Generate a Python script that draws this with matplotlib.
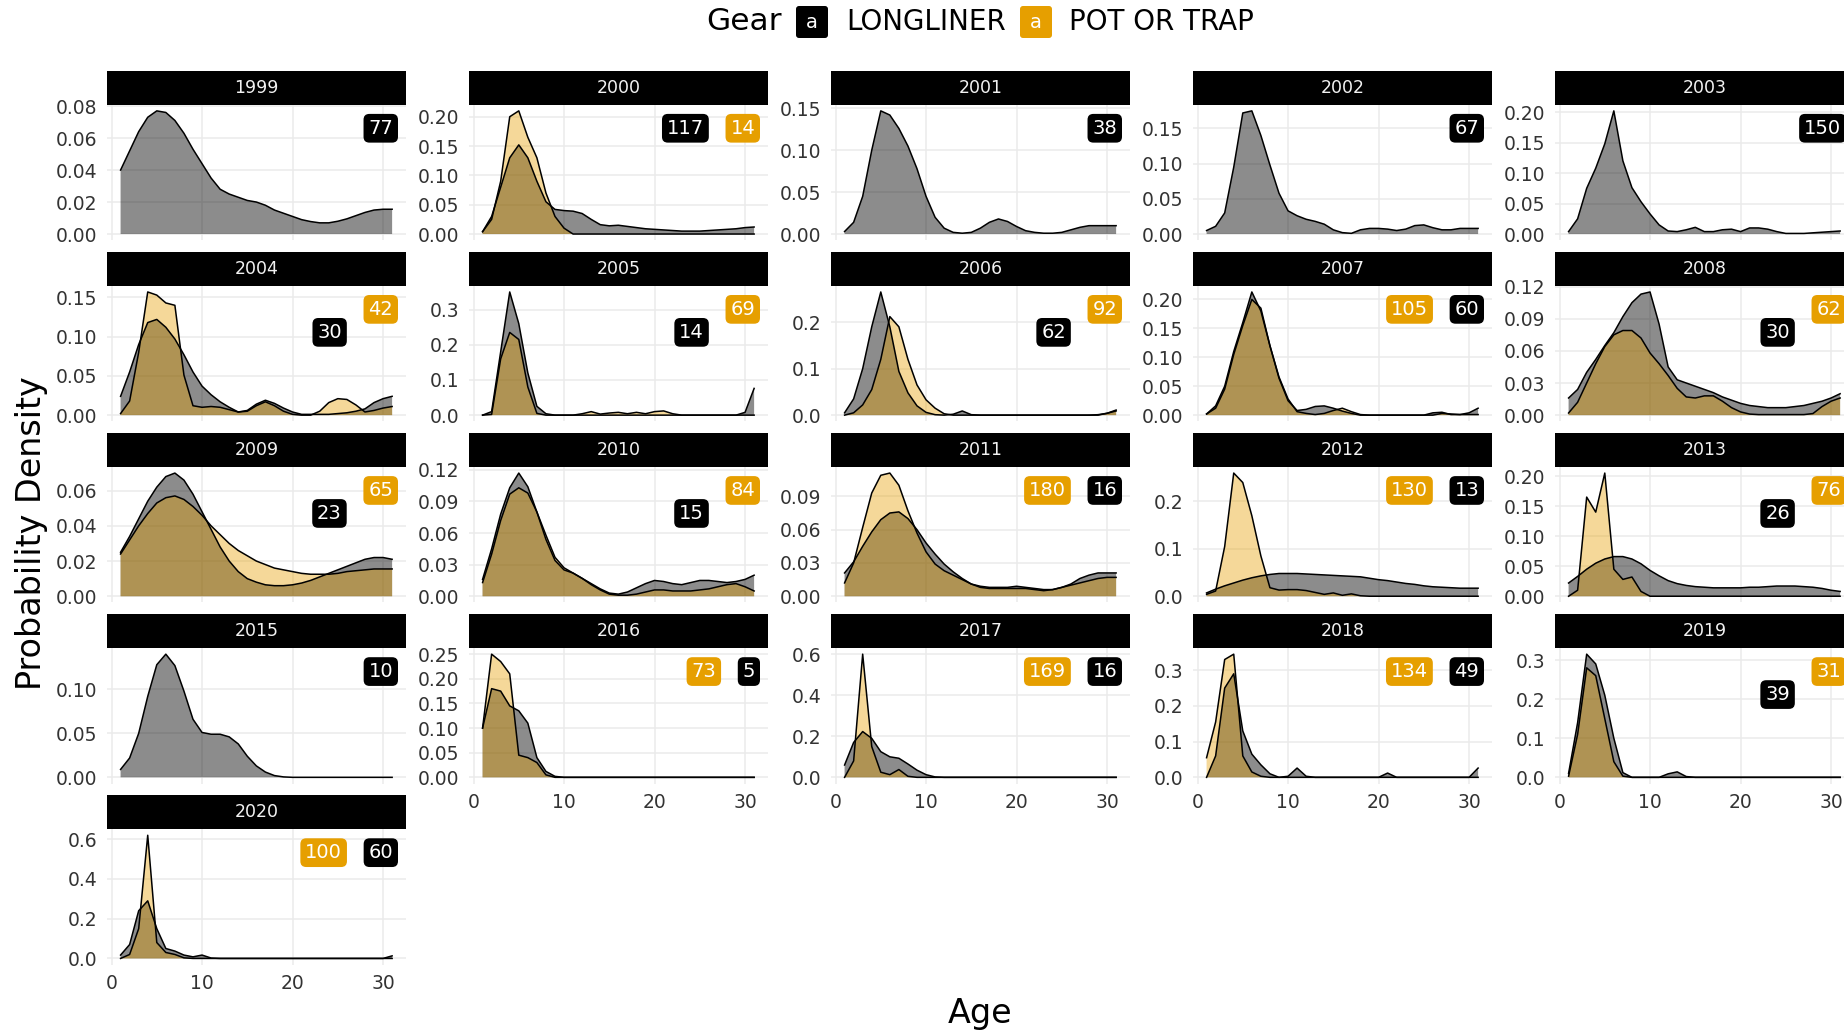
import matplotlib
matplotlib.use("Agg")
import matplotlib.pyplot as plt
from matplotlib.patches import Rectangle, FancyBboxPatch
from matplotlib.transforms import IdentityTransform
import numpy as np

plt.rcParams['font.family'] = ['DejaVu Sans']

# ---------------- data ----------------
AGES = [1, 2, 3, 4, 5, 6, 7, 8, 9, 10, 11, 12, 13, 14, 15, 16, 17, 18, 19, 20,
        21, 22, 23, 24, 25, 26, 27, 28, 29, 30, 31]

YEARS = [1999, 2000, 2001, 2002, 2003, 2004, 2005, 2006, 2007, 2008, 2009,
         2010, 2011, 2012, 2013, 2015, 2016, 2017, 2018, 2019, 2020]
LL_N = [77, 117, 38, 67, 150, 30, 14, 62, 60, 30, 23, 15, 16, 13, 26, 10, 5,
        16, 49, 39, 60]
PT_N = [None, 14, None, None, None, 42, 69, 92, 105, 62, 65, 84, 180, 130, 76,
        None, 73, 169, 134, 31, 100]
LABEL_LAYOUT = ['single', 'll_left', 'single', 'single', 'single', 'stack',
                'stack', 'stack', 'pt_left', 'stack', 'stack', 'stack',
                'pt_left', 'pt_left', 'stack', 'single', 'pt_left', 'pt_left',
                'pt_left', 'stack', 'pt_left']
Y_STEP = [0.02, 0.05, 0.05, 0.05, 0.05, 0.05, 0.1, 0.1, 0.05, 0.03, 0.02,
          0.03, 0.03, 0.1, 0.05, 0.05, 0.05, 0.2, 0.1, 0.1, 0.2]

LL_1999 = [0.040, 0.052, 0.064, 0.073, 0.077, 0.076, 0.071, 0.063, 0.053, 0.044,
           0.035, 0.028, 0.025, 0.023, 0.021, 0.020, 0.018, 0.015, 0.013, 0.011,
           0.009, 0.0078, 0.0070, 0.0070, 0.0080, 0.0095, 0.0115, 0.0135, 0.015, 0.0155, 0.0155]
LL_2000 = [0.004, 0.030, 0.080, 0.130, 0.152, 0.130, 0.090, 0.055, 0.042, 0.040,
           0.039, 0.035, 0.025, 0.016, 0.014, 0.015, 0.013, 0.011, 0.009, 0.008,
           0.007, 0.006, 0.005, 0.005, 0.005, 0.006, 0.007, 0.008, 0.009, 0.011, 0.012]
PT_2000 = [0.004, 0.025, 0.090, 0.200, 0.210, 0.165, 0.130, 0.070, 0.030, 0.010,
           0.0, 0.0, 0.0, 0.0, 0.0, 0.0, 0.0, 0.0, 0.0, 0.0,
           0.0, 0.0, 0.0, 0.0, 0.0, 0.0, 0.0, 0.0, 0.0, 0.0, 0.0]
LL_2001 = [0.003, 0.014, 0.045, 0.100, 0.147, 0.142, 0.126, 0.105, 0.078, 0.045,
           0.020, 0.007, 0.002, 0.001, 0.002, 0.007, 0.014, 0.018, 0.015, 0.009,
           0.004, 0.002, 0.001, 0.001, 0.002, 0.005, 0.008, 0.010, 0.010, 0.010, 0.010]
LL_2002 = [0.005, 0.011, 0.030, 0.095, 0.172, 0.175, 0.140, 0.098, 0.058, 0.033,
           0.026, 0.021, 0.018, 0.014, 0.006, 0.002, 0.001, 0.006, 0.008, 0.008,
           0.007, 0.005, 0.007, 0.012, 0.013, 0.009, 0.006, 0.006, 0.008, 0.008, 0.008]
LL_2003 = [0.004, 0.025, 0.075, 0.108, 0.148, 0.202, 0.120, 0.076, 0.053, 0.033,
           0.015, 0.005, 0.004, 0.007, 0.011, 0.004, 0.004, 0.007, 0.008, 0.004,
           0.010, 0.010, 0.008, 0.004, 0.001, 0.001, 0.001, 0.002, 0.003, 0.004, 0.005]
LL_2004 = [0.024, 0.055, 0.090, 0.118, 0.122, 0.112, 0.097, 0.077, 0.055, 0.037,
           0.026, 0.017, 0.010, 0.004, 0.006, 0.014, 0.019, 0.015, 0.009, 0.004,
           0.001, 0.001, 0.001, 0.001, 0.002, 0.003, 0.005, 0.008, 0.016, 0.021, 0.024]
PT_2004 = [0.002, 0.018, 0.080, 0.157, 0.153, 0.143, 0.140, 0.051, 0.012, 0.010,
           0.011, 0.010, 0.007, 0.004, 0.005, 0.012, 0.017, 0.012, 0.005, 0.001,
           0.0, 0.0, 0.005, 0.016, 0.021, 0.020, 0.013, 0.004, 0.006, 0.009, 0.011]
LL_2005 = [0.0, 0.010, 0.180, 0.350, 0.260, 0.120, 0.025, 0.004, 0.0, 0.0,
           0.0, 0.0, 0.0, 0.0, 0.0, 0.0, 0.0, 0.0, 0.0, 0.0,
           0.0, 0.0, 0.0, 0.0, 0.0, 0.0, 0.0, 0.0, 0.0, 0.008, 0.076]
PT_2005 = [0.0, 0.002, 0.160, 0.235, 0.215, 0.080, 0.005, 0.0, 0.0, 0.0,
           0.0, 0.004, 0.010, 0.003, 0.006, 0.008, 0.004, 0.008, 0.004, 0.010,
           0.012, 0.004, 0.0, 0.0, 0.0, 0.0, 0.0, 0.0, 0.0, 0.0, 0.0]
LL_2006 = [0.005, 0.035, 0.100, 0.190, 0.265, 0.190, 0.094, 0.048, 0.020, 0.006,
           0.001, 0.0, 0.002, 0.009, 0.001, 0.0, 0.0, 0.0, 0.0, 0.0,
           0.0, 0.0, 0.0, 0.0, 0.0, 0.0, 0.0, 0.0, 0.0, 0.004, 0.009]
PT_2006 = [0.0, 0.005, 0.022, 0.055, 0.120, 0.212, 0.190, 0.120, 0.065, 0.033,
           0.015, 0.003, 0.0, 0.0, 0.0, 0.0, 0.0, 0.0, 0.0, 0.0,
           0.0, 0.0, 0.0, 0.0, 0.0, 0.0, 0.0, 0.0, 0.001, 0.004, 0.011]
LL_2007 = [0.002, 0.016, 0.050, 0.110, 0.160, 0.213, 0.180, 0.120, 0.064, 0.025,
           0.008, 0.010, 0.015, 0.016, 0.012, 0.007, 0.003, 0.0, 0.0, 0.0,
           0.0, 0.0, 0.0, 0.0, 0.0, 0.004, 0.005, 0.001, 0.001, 0.004, 0.012]
PT_2007 = [0.002, 0.012, 0.045, 0.105, 0.155, 0.200, 0.185, 0.120, 0.066, 0.028,
           0.006, 0.003, 0.001, 0.003, 0.008, 0.012, 0.006, 0.001, 0.0, 0.0,
           0.0, 0.0, 0.0, 0.0, 0.0, 0.0, 0.003, 0.002, 0.001, 0.001, 0.001]
LL_2008 = [0.016, 0.024, 0.040, 0.052, 0.065, 0.077, 0.092, 0.105, 0.113, 0.115,
           0.085, 0.045, 0.033, 0.030, 0.027, 0.024, 0.021, 0.017, 0.014, 0.011,
           0.009, 0.008, 0.007, 0.007, 0.007, 0.008, 0.009, 0.011, 0.013, 0.016, 0.020]
PT_2008 = [0.002, 0.012, 0.030, 0.048, 0.064, 0.075, 0.079, 0.079, 0.072, 0.058,
           0.048, 0.037, 0.025, 0.017, 0.016, 0.018, 0.018, 0.013, 0.007, 0.003,
           0.001, 0.0005, 0.0005, 0.0005, 0.0005, 0.0005, 0.0005, 0.0015, 0.008, 0.013, 0.016]
LL_2009 = [0.025, 0.034, 0.044, 0.054, 0.062, 0.068, 0.070, 0.066, 0.058, 0.048,
           0.038, 0.028, 0.020, 0.014, 0.010, 0.008, 0.0065, 0.006, 0.006, 0.0065,
           0.0075, 0.009, 0.011, 0.013, 0.015, 0.017, 0.019, 0.021, 0.022, 0.022, 0.021]
PT_2009 = [0.024, 0.032, 0.040, 0.047, 0.053, 0.056, 0.057, 0.055, 0.051, 0.046,
           0.040, 0.035, 0.030, 0.026, 0.023, 0.020, 0.018, 0.016, 0.015, 0.014,
           0.013, 0.0125, 0.0125, 0.0125, 0.013, 0.014, 0.0145, 0.015, 0.0155, 0.0155, 0.0155]
LL_2010 = [0.016, 0.045, 0.078, 0.103, 0.117, 0.104, 0.080, 0.054, 0.034, 0.025,
           0.022, 0.017, 0.012, 0.007, 0.003, 0.002, 0.004, 0.008, 0.012, 0.015,
           0.014, 0.012, 0.011, 0.013, 0.015, 0.015, 0.014, 0.013, 0.014, 0.016, 0.020]
PT_2010 = [0.013, 0.040, 0.072, 0.097, 0.103, 0.098, 0.080, 0.058, 0.037, 0.027,
           0.022, 0.017, 0.011, 0.006, 0.002, 0.001, 0.001, 0.002, 0.004, 0.006,
           0.006, 0.005, 0.005, 0.005, 0.006, 0.007, 0.009, 0.011, 0.012, 0.009, 0.005]
LL_2011 = [0.021, 0.031, 0.045, 0.058, 0.069, 0.075, 0.076, 0.070, 0.060, 0.048,
           0.038, 0.029, 0.022, 0.016, 0.011, 0.009, 0.008, 0.008, 0.008, 0.009,
           0.008, 0.007, 0.006, 0.006, 0.008, 0.011, 0.016, 0.019, 0.021, 0.021, 0.021]
PT_2011 = [0.012, 0.030, 0.062, 0.093, 0.109, 0.111, 0.100, 0.077, 0.057, 0.040,
           0.029, 0.023, 0.019, 0.015, 0.011, 0.008, 0.007, 0.007, 0.007, 0.007,
           0.007, 0.006, 0.005, 0.006, 0.008, 0.010, 0.012, 0.014, 0.016, 0.017, 0.017]
LL_2012 = [0.007, 0.015, 0.022, 0.028, 0.034, 0.039, 0.043, 0.046, 0.048, 0.048,
           0.048, 0.047, 0.046, 0.045, 0.044, 0.043, 0.042, 0.041, 0.038, 0.035,
           0.033, 0.030, 0.027, 0.025, 0.022, 0.020, 0.019, 0.018, 0.017, 0.017, 0.017]
PT_2012 = [0.004, 0.011, 0.105, 0.260, 0.240, 0.170, 0.085, 0.018, 0.013, 0.014,
           0.014, 0.012, 0.008, 0.004, 0.007, 0.002, 0.005, 0.001, 0.0, 0.0,
           0.0, 0.0, 0.0, 0.0, 0.0, 0.0, 0.0, 0.0, 0.0, 0.0, 0.0]
LL_2013 = [0.022, 0.033, 0.045, 0.055, 0.062, 0.066, 0.066, 0.062, 0.054, 0.043,
           0.034, 0.026, 0.021, 0.018, 0.016, 0.015, 0.014, 0.014, 0.014, 0.014,
           0.015, 0.015, 0.016, 0.017, 0.017, 0.017, 0.016, 0.015, 0.013, 0.010, 0.008]
PT_2013 = [0.0, 0.010, 0.165, 0.140, 0.205, 0.045, 0.028, 0.032, 0.008, 0.0,
           0.0, 0.0, 0.0, 0.0, 0.0, 0.0, 0.0, 0.0, 0.0, 0.0,
           0.0, 0.0, 0.0, 0.0, 0.0, 0.0, 0.0, 0.0, 0.0, 0.0, 0.0]
LL_2015 = [0.009, 0.022, 0.050, 0.092, 0.128, 0.140, 0.127, 0.098, 0.066, 0.051,
           0.049, 0.049, 0.046, 0.038, 0.024, 0.013, 0.006, 0.002, 0.0005, 0.0,
           0.0, 0.0, 0.0, 0.0, 0.0, 0.0, 0.0, 0.0, 0.0, 0.0, 0.0]
LL_2016 = [0.100, 0.180, 0.175, 0.145, 0.135, 0.110, 0.040, 0.012, 0.002, 0.0,
           0.0, 0.0, 0.0, 0.0, 0.0, 0.0, 0.0, 0.0, 0.0, 0.0,
           0.0, 0.0, 0.0, 0.0, 0.0, 0.0, 0.0, 0.0, 0.0, 0.0, 0.0]
PT_2016 = [0.100, 0.250, 0.235, 0.210, 0.045, 0.040, 0.030, 0.005, 0.0, 0.0,
           0.0, 0.0, 0.0, 0.0, 0.0, 0.0, 0.0, 0.0, 0.0, 0.0,
           0.0, 0.0, 0.0, 0.0, 0.0, 0.0, 0.0, 0.0, 0.0, 0.0, 0.0]
LL_2017 = [0.060, 0.170, 0.223, 0.190, 0.125, 0.100, 0.093, 0.065, 0.035, 0.013,
           0.002, 0.0, 0.0, 0.0, 0.0, 0.0, 0.0, 0.0, 0.0, 0.0,
           0.0, 0.0, 0.0, 0.0, 0.0, 0.0, 0.0, 0.0, 0.0, 0.0, 0.0]
PT_2017 = [0.0, 0.080, 0.600, 0.150, 0.025, 0.013, 0.038, 0.005, 0.0, 0.0,
           0.0, 0.0, 0.0, 0.0, 0.0, 0.0, 0.0, 0.0, 0.0, 0.0,
           0.0, 0.0, 0.0, 0.0, 0.0, 0.0, 0.0, 0.0, 0.0, 0.0, 0.0]
LL_2018 = [0.0, 0.060, 0.250, 0.290, 0.130, 0.065, 0.035, 0.010, 0.0, 0.003,
           0.026, 0.003, 0.0, 0.0, 0.0, 0.0, 0.0, 0.0, 0.0, 0.0,
           0.012, 0.0, 0.0, 0.0, 0.0, 0.0, 0.0, 0.0, 0.0, 0.0, 0.026]
PT_2018 = [0.055, 0.155, 0.330, 0.345, 0.060, 0.015, 0.003, 0.0, 0.0, 0.0,
           0.0, 0.0, 0.0, 0.0, 0.0, 0.0, 0.0, 0.0, 0.0, 0.0,
           0.0, 0.0, 0.0, 0.0, 0.0, 0.0, 0.0, 0.0, 0.0, 0.0, 0.0]
LL_2019 = [0.010, 0.140, 0.315, 0.290, 0.210, 0.100, 0.012, 0.0, 0.0, 0.0,
           0.0, 0.009, 0.014, 0.002, 0.0, 0.0, 0.0, 0.0, 0.0, 0.0,
           0.0, 0.0, 0.0, 0.0, 0.0, 0.0, 0.0, 0.0, 0.0, 0.0, 0.0]
PT_2019 = [0.003, 0.110, 0.280, 0.260, 0.150, 0.040, 0.003, 0.0, 0.0, 0.0,
           0.0, 0.0, 0.0, 0.0, 0.0, 0.0, 0.0, 0.0, 0.0, 0.0,
           0.0, 0.0, 0.0, 0.0, 0.0, 0.0, 0.0, 0.0, 0.0, 0.0, 0.0]
LL_2020 = [0.017, 0.070, 0.240, 0.290, 0.150, 0.050, 0.037, 0.017, 0.008, 0.017,
           0.002, 0.0, 0.0, 0.0, 0.0, 0.0, 0.0, 0.0, 0.0, 0.0,
           0.0, 0.0, 0.0, 0.0, 0.0, 0.0, 0.0, 0.0, 0.0, 0.0, 0.013]
PT_2020 = [0.0, 0.020, 0.150, 0.620, 0.080, 0.030, 0.020, 0.003, 0.0, 0.0,
           0.0, 0.0, 0.0, 0.0, 0.0, 0.0, 0.0, 0.0, 0.0, 0.0,
           0.0, 0.0, 0.0, 0.0, 0.0, 0.0, 0.0, 0.0, 0.0, 0.0, 0.0]

LL_CURVES = {1999: LL_1999, 2000: LL_2000, 2001: LL_2001, 2002: LL_2002,
             2003: LL_2003, 2004: LL_2004, 2005: LL_2005, 2006: LL_2006,
             2007: LL_2007, 2008: LL_2008, 2009: LL_2009, 2010: LL_2010,
             2011: LL_2011, 2012: LL_2012, 2013: LL_2013, 2015: LL_2015,
             2016: LL_2016, 2017: LL_2017, 2018: LL_2018, 2019: LL_2019,
             2020: LL_2020}
PT_CURVES = {2000: PT_2000, 2004: PT_2004, 2005: PT_2005, 2006: PT_2006,
             2007: PT_2007, 2008: PT_2008, 2009: PT_2009, 2010: PT_2010,
             2011: PT_2011, 2012: PT_2012, 2013: PT_2013, 2016: PT_2016,
             2017: PT_2017, 2018: PT_2018, 2019: PT_2019, 2020: PT_2020}

GEAR_NAMES = ['LONGLINER', 'POT OR TRAP']
GEAR_COLORS = ['#000000', '#E69F00']

# ---------------- layout (pixels) ----------------
FW, FH = 1844, 1031
PANEL_X0, COL_STEP, PANEL_W = 107.0, 362.0, 298.7
STRIP_Y0, ROW_STEP, STRIP_H, PLOT_H = 70.6, 181.1, 34.1, 135.5
NCOL = 5

fig = plt.figure(figsize=(FW / 100, FH / 100), dpi=100)
fig.patch.set_facecolor('white')

TICK_COLOR = '#333333'
LBL_FS = 14
PAD = 0.25
pad_px = PAD * LBL_FS * 100 / 72


def count_box(ax, text, color, **kw):
    return ax.annotate(text, color='white', fontsize=LBL_FS, zorder=10,
                       annotation_clip=False,
                       bbox=dict(boxstyle=f'round,pad={PAD},rounding_size=0.3',
                                 fc=color, ec='none'), **kw)


def draw_density(ax, y, color, alpha):
    ax.fill_between(AGES, y, 0, facecolor=matplotlib.colors.to_rgba(color, alpha),
                    edgecolor='none', linewidth=0, zorder=2)
    ax.plot(AGES, y, color='black', linewidth=1.1, zorder=3,
            solid_joinstyle='round')


for i, year in enumerate(YEARS):
    r, c = divmod(i, NCOL)
    left = PANEL_X0 + c * COL_STEP
    top = STRIP_Y0 + r * ROW_STEP + STRIP_H
    ax = fig.add_axes([left / FW, 1 - (top + PLOT_H) / FH, PANEL_W / FW, PLOT_H / FH])
    ax.set_facecolor('white')

    ll = LL_CURVES.get(year)
    pt = PT_CURVES.get(year)
    ymax = max([max(v) for v in (ll, pt) if v is not None])
    if ll is not None:
        draw_density(ax, ll, GEAR_COLORS[0], 0.45)
    if pt is not None:
        draw_density(ax, pt, GEAR_COLORS[1], 0.4)

    ax.set_xlim(-0.5, 32.5)
    ax.set_ylim(-0.05 * ymax, 1.05 * ymax)
    step = Y_STEP[i]
    yt = np.arange(0, 1.05 * ymax + 1e-9, step)
    ax.set_yticks(yt)
    dec = 2 if step < 0.1 else 1
    ax.set_yticklabels([f'{v:.{dec}f}' for v in yt])
    ax.set_xticks([0, 10, 20, 30])
    show_x = i + NCOL >= len(YEARS)
    if show_x:
        ax.set_xticklabels(['0', '10', '20', '30'])
    else:
        ax.set_xticklabels([])
    ax.tick_params(length=0, labelsize=13.5, labelcolor=TICK_COLOR, pad=7)
    for s in ax.spines.values():
        s.set_visible(False)
    ax.grid(True, color='#EBEBEB', linewidth=1.1)
    ax.set_axisbelow(True)

    # strip
    sh = STRIP_H / PLOT_H
    ax.add_patch(Rectangle((0, 1), 1, sh, transform=ax.transAxes,
                           facecolor='black', edgecolor='none', clip_on=False))
    ax.text(0.5, 1 + sh / 2, str(year), transform=ax.transAxes, ha='center',
            va='center', color='#F2F2F2', fontsize=12.5)

    # count labels
    layout = LABEL_LAYOUT[i]
    ll_txt = str(LL_N[i])
    pt_txt = str(PT_N[i]) if PT_N[i] is not None else None
    right_kw = dict(xy=(1, 1), xycoords='axes fraction',
                    xytext=(-(7.7 + pad_px), -(9.2 + pad_px)),
                    textcoords='offset pixels', ha='right', va='top')
    if layout == 'single':
        count_box(ax, ll_txt, GEAR_COLORS[0], **right_kw)
    else:
        if layout == 'll_left':
            rt, rc, lt, lc, dy = pt_txt, GEAR_COLORS[1], ll_txt, GEAR_COLORS[0], 0
        elif layout == 'pt_left':
            rt, rc, lt, lc, dy = ll_txt, GEAR_COLORS[0], pt_txt, GEAR_COLORS[1], 0
        else:
            rt, rc, lt, lc, dy = pt_txt, GEAR_COLORS[1], ll_txt, GEAR_COLORS[0], -23
        rann = count_box(ax, rt, rc, **right_kw)
        count_box(ax, lt, lc, xy=(0, 0.5), xycoords=rann,
                  xytext=(-(16.7 + 2 * pad_px), dy), textcoords='offset pixels',
                  ha='right', va='center')

# axis titles
fig.text(32 / FW, 1 - 533 / FH, 'Probability Density', rotation=90,
         fontsize=24, ha='center', va='center', color='black')
fig.text(980 / FW, 1 - 1014 / FH, 'Age', fontsize=24, ha='center',
         va='center', color='black')

# legend
LEG_Y = 22
fig.text(706 / FW, 1 - LEG_Y / FH, 'Gear', fontsize=22.5, ha='left',
         va='center', color='black')
key_x = [796, 1020]
text_x = [846, 1069]
for k in range(2):
    box = FancyBboxPatch((key_x[k] + 2, FH - 38 + 2), 28, 28,
                         boxstyle='round,pad=2,rounding_size=3',
                         facecolor=GEAR_COLORS[k], edgecolor='none',
                         transform=IdentityTransform())
    fig.add_artist(box)
    fig.text((key_x[k] + 16) / FW, 1 - LEG_Y / FH, 'a', fontsize=14,
             color='white', ha='center', va='center')
    fig.text(text_x[k] / FW, 1 - LEG_Y / FH, GEAR_NAMES[k], fontsize=20,
             ha='left', va='center', color='black')

fig.savefig('out.png', dpi=100)
